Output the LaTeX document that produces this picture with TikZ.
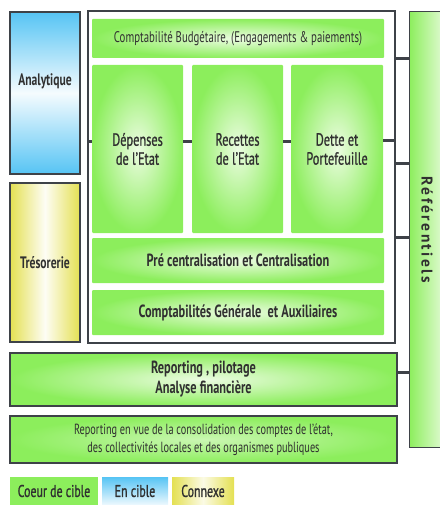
\documentclass[tikz,border=0pt]{standalone}
\usepackage{fontspec}
\setmainfont{PT Sans}[FakeStretch=0.70]
\newfontfamily\mediumfont{PT Sans}[FakeStretch=0.70, FakeBold=1]
\newfontfamily\widefont{PT Sans}[LetterSpace=16]
\definecolor{cgreen}{RGB}{140,238,92}
\definecolor{clight}{RGB}{236,252,226}
\definecolor{cblue}{RGB}{86,196,244}
\definecolor{cyellow}{RGB}{228,224,82}
\definecolor{cdark}{RGB}{62,66,72}
\definecolor{ctext}{RGB}{48,48,48}
\tikzset{
  box/.style={rectangle, align=center, text=ctext, inner sep=1pt},
  greenbox/.style={box, inner color=clight, outer color=cgreen, rounded corners=1pt},
  outerbox/.style={box, draw=cdark, line width=1.6pt},
  link/.style={draw=cdark, line width=3pt},
}
\begin{document}
\begin{tikzpicture}[x=1pt,y=-1pt]
  \useasboundingbox (0,0) rectangle (439,505);

  % Left columns
  \node[outerbox, top color=cblue, bottom color=cblue, middle color=white!94!cblue,
        minimum width=70, minimum height=162,
        label={[text=ctext, font=\bfseries\fontsize{16.6}{19}\selectfont, yshift=12pt]center:Analytique}]
        (analytique) at (45,93) {};
  \node[outerbox, left color=cyellow, right color=cyellow, middle color=white!94!cyellow,
        minimum width=70, minimum height=159, font=\bfseries\fontsize{16.6}{19}\selectfont]
        (tresorerie) at (45,262.5) {Trésorerie};

  % Main frame
  \node[draw=cdark, line width=2.2pt, minimum width=307, minimum height=332] (frame) at (241.5,177) {};

  % Inner green boxes
  \node[greenbox, minimum width=292, minimum height=39, font=\fontsize{15.4}{17}\selectfont]
        (budget) at (238,38.5) {Comptabilité Budgétaire, (Engagements \& paiements)};
  \node[greenbox, minimum width=91, minimum height=168, font=\mediumfont\fontsize{17.6}{19}\selectfont]
        (depenses) at (137.5,149) {Dépenses\\de l’Etat};
  \node[greenbox, minimum width=91, minimum height=168, font=\mediumfont\fontsize{17.6}{19}\selectfont]
        (recettes) at (237.5,149) {Recettes\\de l’Etat};
  \node[greenbox, minimum width=92, minimum height=168, font=\mediumfont\fontsize{17.6}{19}\selectfont]
        (dette) at (337,149) {Dette et\\Portefeuille};
  \node[greenbox, minimum width=292, minimum height=45, font=\bfseries\fontsize{17.6}{19}\selectfont]
        (precentral) at (238,260.5) {Pré centralisation et Centralisation};
  \node[greenbox, minimum width=292, minimum height=45, font=\bfseries\fontsize{17.6}{19}\selectfont]
        (comptagen) at (238,312.5) {Comptabilités Générale~ et Auxiliaires};

  % Right column
  \node[box, draw=cdark, line width=1pt, left color=cgreen, right color=clight,
        minimum width=39, minimum height=435] (referentiels) at (428.5,229.5) {};
  \node[text=ctext, font=\widefont\bfseries\fontsize{15.5}{17}\selectfont, rotate=-90]
        (reftext) at (427,230) {Référentiels};

  % Bottom rows
  \node[outerbox, inner color=clight, outer color=cgreen, minimum width=387, minimum height=53,
        font=\bfseries\fontsize{17.6}{20}\selectfont]
        (reporting) at (203.5,379.5) {Reporting , pilotage\\Analyse financière};
  \node[outerbox, inner color=cgreen!35!clight, outer color=cgreen, minimum width=387, minimum height=47,
        font=\fontsize{14.7}{18}\selectfont]
        (consolidation) at (203.5,439.5) {Reporting en vue de la consolidation des comptes de l’état,\\des collectivités locales et des organismes publiques};

  % Legend
  \node[box, fill=cgreen, minimum width=88, minimum height=28, font=\mediumfont\fontsize{17}{18}\selectfont]
        (coeur) at (54,491) {Coeur de cible};
  \node[box, top color=cblue, bottom color=white!90!cblue, minimum width=66, minimum height=28,
        font=\mediumfont\fontsize{17}{18}\selectfont] (encible) at (135,491) {En cible};
  \node[box, left color=cyellow, right color=cyellow, middle color=white!85!cyellow,
        minimum width=62, minimum height=28, font=\mediumfont\fontsize{17}{18}\selectfont]
        (connexe) at (203,491) {Connexe};

  % Connectors
  \draw[link] ([yshift=7pt]depenses.west) -- ([yshift=7pt]depenses.west -| frame.west);
  \draw[link] ([yshift=7pt]depenses.east) -- ([yshift=7pt]recettes.west);
  \draw[link] ([yshift=7pt]recettes.east) -- ([yshift=7pt]dette.west);
  \draw[link] ([yshift=8pt]dette.east) -- ([yshift=8pt]dette.east -| frame.east);
  \draw[link] (frame.east |- budget.south) -- (referentiels.west |- budget.south);
  \draw[link] ([yshift=-14pt]frame.east |- dette.east) -- ([yshift=-14pt]referentiels.west |- dette.east);
  \draw[link] (frame.east |- precentral.north) -- (referentiels.west |- precentral.north);
  \draw[link] ([yshift=7pt]reporting.east) -- ([yshift=7pt]reporting.east -| referentiels.west);
\end{tikzpicture}
\end{document}
